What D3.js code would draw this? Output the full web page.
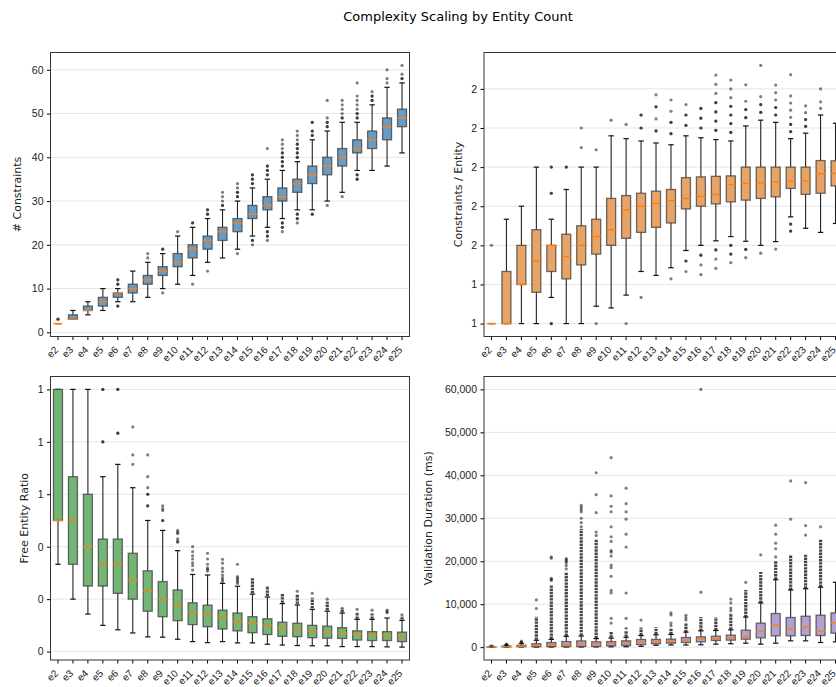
<!DOCTYPE html>
<html>
<head>
<meta charset="utf-8">
<script src="https://cdn.jsdelivr.net/npm/d3@7"></script>
<style>
  body { margin: 0; background: #fff; }
  svg { display: block; font-family: "DejaVu Sans", sans-serif; }
</style>
</head>
<body>
<div id="chart"></div>
<script>
const entities = ["e2","e3","e4","e5","e6","e7","e8","e9","e10","e11","e12","e13",
                  "e14","e15","e16","e17","e18","e19","e20","e21","e22","e23","e24","e25"];

// # Constraints (top left)
const consLo  = [2,3,4,5,7,7,8,10,11,13,16,17,19,22,24,26,28,28,30,32,37,37,38,41];
const consQ1  = [2,3,5,6,8,9,11,13,15,17,19,21,23,26,28,30,32,34,36,38,41,42,44,47];
const consMed = [2,3,5,7,9,10,12,14,16,19,21,23,25,27,29,31,34,36,38,40,42,44,47,49];
const consQ3  = [2,4,6,8,9,11,13,15,18,20,22,24,26,29,31,33,35,38,40,42,44,46,49,51];
const consHi  = [2,5,7,10,10,14,16,18,22,24,26,28,30,33,35,37,39,44,46,48,48,52,56,57];
const consFliers = [
  [3,3], [], [], [], [11,11,12,12,6,6], [], [17,18], [19,19,9], [23], [25,25,11],
  [27,27,28,28,14], [29,29,30,31,32], [31,31,32,32,33,34,18], [34,34,35,35,36,36,21,21,20],
  [36,36,37,37,38,38,42,23,23,22,22,21], [38,38,39,39,40,40,41,41,42,43,44,25,25,24,24,23],
  [40,40,41,41,42,42,43,43,44,45,46,27,27,26,26,25], [45,45,46,46,48,48,27,27],
  [47,47,48,48,49,53,29], [49,49,50,51,52,53,31], [49,49,50,50,51,52,53,54,57,36,36,35,35],
  [53,53,54,54,55], [57,58,60], [58,58,59,61]
];

// Constraints / Entity (top right)
const ratioLo  = [1,1,1,1,1.167,1,1,1.111,1.1,1.182,1.333,1.308,1.357,1.467,1.5,1.529,1.556,1.526,1.5,1.524,1.682,1.609,1.583,1.64];
const ratioQ1  = [1,1,1.25,1.2,1.333,1.286,1.375,1.444,1.5,1.545,1.583,1.615,1.643,1.733,1.75,1.765,1.778,1.789,1.8,1.81,1.864,1.826,1.833,1.88];
const ratioMed = [1,1,1.25,1.4,1.5,1.429,1.5,1.556,1.6,1.727,1.75,1.769,1.786,1.8,1.8125,1.824,1.889,1.895,1.9,1.905,1.909,1.913,1.958,1.96];
const ratioQ3  = [1,1.333,1.5,1.6,1.5,1.571,1.625,1.667,1.8,1.818,1.833,1.846,1.857,1.933,1.9375,1.941,1.944,2,2,2,2,2,2.042,2.04];
const ratioHi  = [1,1.667,1.75,2,1.667,1.857,2,2,2.2,2.182,2.167,2.154,2.143,2.2,2.1875,2.176,2.167,2.263,2.3,2.286,2.182,2.217,2.333,2.28];
const ratioFliers = [
  [1.5], [], [], [], [2,2,1.833,1.833,1,1], [2,2], [2.125,2.25], [2.111,1], [2.3], [2.273,1],
  [2.25,2.25,2.333,2.333,1.167], [2.231,2.231,2.308,2.385,2.385,2.462],
  [2.214,2.214,2.286,2.286,2.357,2.429,1.286], [2.267,2.267,2.333,2.333,2.4,1.4,1.4,1.333],
  [2.25,2.25,2.3125,2.3125,2.375,2.375,1.4375,1.4375,1.375,1.3125],
  [2.235,2.235,2.294,2.294,2.353,2.353,2.412,2.412,2.471,2.529,2.588,1.471,1.471,1.412,1.353],
  [2.222,2.222,2.278,2.278,2.333,2.333,2.389,2.389,2.444,2.5,2.556,1.5,1.5,1.444,1.444,1.389],
  [2.316,2.316,2.368,2.368,2.421,2.526,1.474,1.474,1.421],
  [2.35,2.35,2.4,2.4,2.45,2.65,1.45], [2.333,2.333,2.381,2.381,2.429,2.476,2.524,1.476],
  [2.227,2.227,2.273,2.273,2.318,2.364,2.409,2.455,2.591,1.636,1.636,1.591,1.591],
  [2.261,2.261,2.304,2.304,2.348,2.391], [2.375,2.417,2.5], []
];
const ratioTicks = [1, 1.25, 1.5, 1.75, 2, 2.25, 2.5];
const ratioTickLabels = ["1", "1", "2", "2", "2", "2", "2"];

// Free Entity Ratio (bottom left)
const freeLo  = [0.333,0.2,0.143,0.1,0.083,0.071,0.056,0.055,0.047,0.038,0.034,0.038,0.033,0.033,0.028,0.025,0.023,0.022,0.022,0.019,0.019,0.019,0.018,0.017];
const freeQ1  = [0.5,0.333,0.25,0.25,0.222,0.2,0.154,0.133,0.118,0.103,0.095,0.086,0.079,0.072,0.065,0.058,0.057,0.053,0.051,0.05,0.044,0.042,0.042,0.038];
const freeMed = [0.5,0.5,0.4,0.333,0.333,0.273,0.231,0.2,0.177,0.149,0.142,0.13,0.114,0.107,0.1,0.091,0.085,0.079,0.074,0.07,0.067,0.065,0.061,0.058];
const freeQ3  = [1,0.667,0.6,0.429,0.429,0.375,0.308,0.267,0.235,0.186,0.177,0.158,0.147,0.133,0.125,0.112,0.108,0.1,0.097,0.091,0.079,0.076,0.076,0.074];
const freeHi  = [1,1,1,0.667,0.714,0.625,0.5,0.462,0.385,0.294,0.292,0.26,0.249,0.219,0.208,0.183,0.178,0.161,0.154,0.147,0.123,0.123,0.128,0.119];
const freeFliers = [
  [], [], [], [1,1,0.8,0.8], [1,1,0.833,0.833], [0.857,0.75,0.714],
  [0.75,0.667,0.625,0.6,0.6,0.556,0.556], [0.556,0.545,0.538,0.5,0.5],
  [0.462,0.455,0.45,0.43,0.421,0.417], [0.4,0.381,0.365,0.353,0.338,0.328,0.311],
  [0.375,0.353,0.333,0.319,0.314,0.307], [0.352,0.337,0.318,0.305,0.292,0.282,0.274,0.267],
  [0.333,0.286,0.28,0.273,0.267,0.26], [], [], [], [0.23], [0.222], [0.2], [0.165],
  [0.161], [0.158], [0.158,0.152,0.148], [0.14]
];
// ranges where the outliers pile up into a solid column
const freeDenseLo = [null,null,null,null,null,null,null,null,null,null,null,null,null,0.222,0.212,0.186,0.182,0.165,0.158,0.15,0.125,0.125,null,0.122];
const freeDenseHi = [null,null,null,null,null,null,null,null,null,null,null,null,null,0.28,0.25,0.222,0.22,0.205,0.19,0.163,0.15,0.145,null,0.135];
const freeTicks = [0, 0.2, 0.4, 0.6, 0.8, 1.0];
const freeTickLabels = ["0", "0", "0", "1", "1", "1"];

// Validation Duration in ms (bottom right)
const durLo  = [10,30,50,30,40,40,40,60,80,100,200,450,500,500,550,700,800,930,700,930,1470,1470,1085,1240];
const durQ1  = [40,60,100,100,140,140,140,155,300,390,600,780,930,1090,1240,1550,1630,1860,2170,2640,2640,2710,2710,3260];
const durMed = [70,120,200,390,540,600,700,775,850,930,1160,1320,1400,1630,1860,2015,2170,2480,3640,5120,4190,4650,3720,5660];
const durQ3  = [120,250,450,800,1070,1300,1450,1240,1300,1470,1780,1800,1860,2250,2400,2560,2790,3950,5580,7830,6900,7200,7440,7980];
const durHi  = [230,450,900,1600,1800,2500,2600,2000,2100,2300,2700,2870,2950,3490,3800,3875,4030,7000,10300,15700,13300,13600,13950,15100];
const durFliers = [
  [300], [500,600,700], [1000,1200,1400], [9000,11000],
  [15500,15800,16000,20700,21000], [18200,19000,19600,20000,20300,20600],
  [28000,29000,30000,31500,32000,32500,33000], [26000,26800,31300,35500,40600],
  [5600,6700,12600,13200,16500,18500,19100,21200,22100,22500,24600,25700,28000,31500,32800,35200,44100],
  [4400,6700,12600,23300,26300,29800,31500,33400,37000], [6300], [],
  [5000,5600,7500,8000], [6300,6800,7400], [12800,60000], [], [8500,9100,10300,11200],
  [15100], [21500], [21000,22900,24200,26300,28400], [29800,38700], [26100,28300,38300], [28000], []
];
const durDenseLo = [null,null,null,1700,1900,2600,2700,2100,2200,2400,2800,3000,3000,3500,3800,3900,4100,7000,10300,15700,13300,13600,14000,null];
const durDenseHi = [null,null,null,7100,14500,17500,27500,25000,3600,3700,4600,4700,4500,5500,7000,7000,7900,13300,17500,20000,21500,21500,25000,null];
const durTicks = [0, 10000, 20000, 30000, 40000, 50000, 60000];

const width = 836, height = 687;
const svg = d3.select("#chart").append("svg")
  .attr("width", width)
  .attr("height", height);

svg.append("text")
  .attr("x", 458)
  .attr("y", 21)
  .attr("text-anchor", "middle")
  .style("font-size", "13px")
  .style("fill", "#000")
  .text("Complexity Scaling by Entity Count");

function drawPanel(p) {
  const g = svg.append("g");
  const x = d3.scaleBand().domain(entities).range([p.left, p.left + p.width]);
  const all = [].concat(p.lo, p.hi, p.fliers.flat(), p.denseHi ? p.denseHi.filter(v => v != null) : []);
  const [mn, mx] = d3.extent(all);
  const pad = (mx - mn) * 0.05;
  const y = d3.scaleLinear().domain([mn - pad, mx + pad]).range([p.top + p.height, p.top]);

  // horizontal grid
  g.selectAll(".grid").data(p.ticks).enter().append("line")
    .attr("x1", p.left).attr("x2", p.left + p.width)
    .attr("y1", d => y(d)).attr("y2", d => y(d))
    .attr("stroke", "#e6e6e6").attr("stroke-width", 1);

  const bw = x.bandwidth() * 0.6;
  const capW = bw * 0.6;

  entities.forEach((e, i) => {
    const cx = x(e) + x.bandwidth() / 2;
    const b = g.append("g");
    // whiskers
    b.append("line").attr("x1", cx).attr("x2", cx)
      .attr("y1", y(p.lo[i])).attr("y2", y(p.q1[i]))
      .attr("stroke", "#222").attr("stroke-width", 1.1);
    b.append("line").attr("x1", cx).attr("x2", cx)
      .attr("y1", y(p.q3[i])).attr("y2", y(p.hi[i]))
      .attr("stroke", "#222").attr("stroke-width", 1.1);
    // caps
    [p.lo[i], p.hi[i]].forEach(v => {
      b.append("line").attr("x1", cx - capW / 2).attr("x2", cx + capW / 2)
        .attr("y1", y(v)).attr("y2", y(v))
        .attr("stroke", "#111").attr("stroke-width", 1.2);
    });
    // box
    b.append("rect")
      .attr("x", cx - bw / 2).attr("width", bw)
      .attr("y", y(p.q3[i])).attr("height", Math.max(0, y(p.q1[i]) - y(p.q3[i])))
      .attr("fill", p.color)
      .attr("stroke", "#3c3c3c").attr("stroke-width", 1.3).attr("stroke-opacity", 0.75);
    // median
    b.append("line").attr("x1", cx - bw / 2).attr("x2", cx + bw / 2)
      .attr("y1", y(p.med[i])).attr("y2", y(p.med[i]))
      .attr("stroke", "#ff7f0e").attr("stroke-width", 1.4);
    // dense outlier column, drawn dotted like stacked markers
    if (p.denseLo && p.denseLo[i] != null) {
      b.append("line").attr("x1", cx).attr("x2", cx)
        .attr("y1", y(p.denseLo[i])).attr("y2", y(p.denseHi[i]))
        .attr("stroke", "#111").attr("stroke-width", 3.2)
        .attr("stroke-dasharray", "2.4,0.8")
        .attr("opacity", 0.78);
    }
    // fliers
    b.selectAll("circle").data(p.fliers[i]).enter().append("circle")
      .attr("cx", cx).attr("cy", d => y(d)).attr("r", 1.6)
      .attr("fill", "#000").attr("fill-opacity", 0.5);
  });

  // axes
  const yAxis = d3.axisLeft(y).tickValues(p.ticks).tickSize(3.5).tickPadding(3.5)
    .tickFormat((d, i) => p.tickLabels ? p.tickLabels[i] : d3.format(",")(d));
  const ya = g.append("g").attr("transform", `translate(${p.left},0)`).call(yAxis);
  ya.select(".domain").remove();
  ya.selectAll("text").style("font-size", "10.5px").attr("fill", "#222");

  const xAxis = d3.axisBottom(x).tickSize(3.5).tickPadding(0);
  const xa = g.append("g").attr("transform", `translate(0,${p.top + p.height})`).call(xAxis);
  xa.select(".domain").remove();
  xa.selectAll("text")
    .style("font-size", "10px")
    .attr("fill", "#222")
    .attr("text-anchor", "end")
    .attr("y", 0).attr("dy", 0)
    .attr("transform", "translate(1,14) rotate(-45)");

  // frame
  g.append("rect")
    .attr("x", p.left).attr("y", p.top)
    .attr("width", p.width).attr("height", p.height)
    .attr("fill", "none").attr("stroke", "#333").attr("stroke-width", 1);

  g.append("text")
    .attr("transform", `translate(${p.labelX},${p.top + p.height / 2}) rotate(-90)`)
    .attr("text-anchor", "middle")
    .style("font-size", "11px")
    .attr("fill", "#222")
    .text(p.ylabel);
}

drawPanel({
  left: 50.5, top: 52.5, width: 359, height: 284,
  lo: consLo, q1: consQ1, med: consMed, q3: consQ3, hi: consHi, fliers: consFliers,
  color: "#6a9bc3", ticks: [0, 10, 20, 30, 40, 50, 60], ylabel: "# Constraints", labelX: 21
});
drawPanel({
  left: 484, top: 52.5, width: 359, height: 284,
  lo: ratioLo, q1: ratioQ1, med: ratioMed, q3: ratioQ3, hi: ratioHi, fliers: ratioFliers,
  color: "#e8a467", ticks: ratioTicks, tickLabels: ratioTickLabels,
  ylabel: "Constraints / Entity", labelX: 462
});
drawPanel({
  left: 50.5, top: 376.5, width: 359, height: 283.5,
  lo: freeLo, q1: freeQ1, med: freeMed, q3: freeQ3, hi: freeHi, fliers: freeFliers,
  denseLo: freeDenseLo, denseHi: freeDenseHi,
  color: "#74b474", ticks: freeTicks, tickLabels: freeTickLabels,
  ylabel: "Free Entity Ratio", labelX: 28
});
drawPanel({
  left: 484, top: 376.5, width: 359, height: 283.5,
  lo: durLo, q1: durQ1, med: durMed, q3: durQ3, hi: durHi, fliers: durFliers,
  denseLo: durDenseLo, denseHi: durDenseHi,
  color: "#b3a0d1", ticks: durTicks, ylabel: "Validation Duration (ms)", labelX: 432
});
</script>
</body>
</html>
